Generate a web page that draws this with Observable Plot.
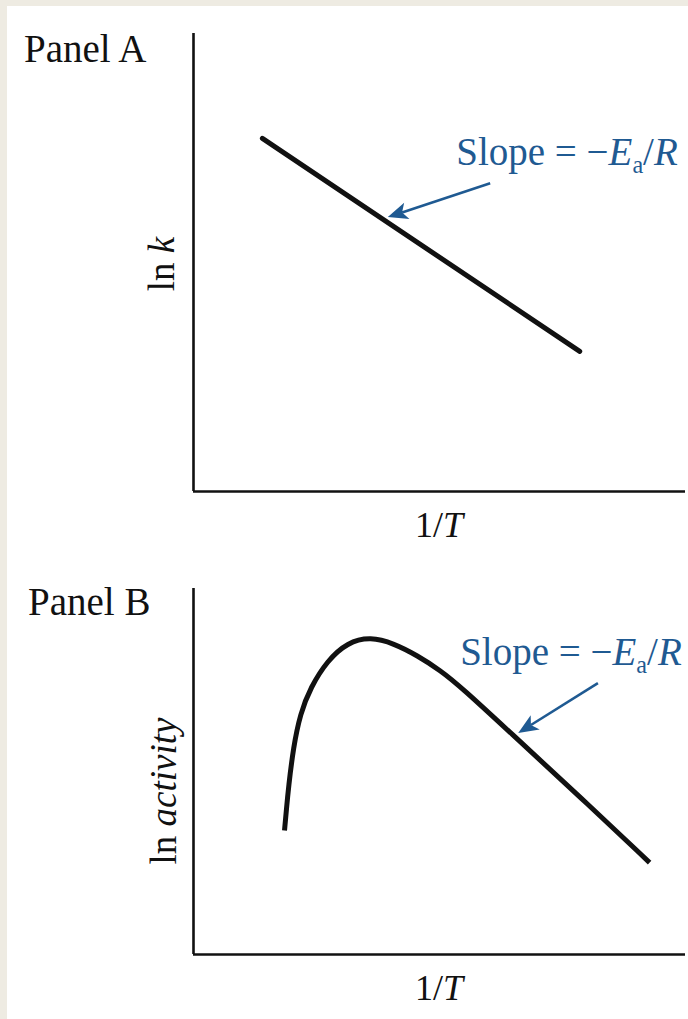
<!DOCTYPE html>
<html><head><meta charset="utf-8">
<script src="https://cdn.jsdelivr.net/npm/d3@7"></script>
<script src="https://cdn.jsdelivr.net/npm/@observablehq/plot@0.6"></script>
<style>
html,body{margin:0;padding:0;background:#eeebe2;}
#card{position:absolute;left:7px;top:6px;width:681px;height:1013px;background:#fff;overflow:hidden;}
#card svg{display:block;background:transparent;}
</style></head><body><div id="card"></div>
<script>
// ---------- data ----------
const panelNames = ["Panel A", "Panel B"];
const xTitle = [{t: "1/"}, {t: "T", i: true}];
const yTitleA = [{t: "ln "}, {t: "k", i: true}];
const yTitleB = [{t: "ln "}, {t: "activity", i: true}];
const slopeLabel = [{t: "Slope = −"}, {t: "E", i: true}, {t: "a", sub: true}, {t: "/"}, {t: "R", i: true}];

// Panel A: straight line ln k vs 1/T (arbitrary units 0–100)
const lineAX = [14.0, 78.5];
const lineAY = [77.1, 30.6];
// Panel B: ln activity vs 1/T
const curveBX = [18.5, 18.9, 19.3, 20.3, 21.7, 23.8, 27.2, 31.3, 36.0, 40.7, 45.5, 50.2, 54.3, 66.1, 78.7, 92.4, 92.7];
const curveBY = [33.9, 39.8, 45.6, 56.6, 65.8, 73.0, 80.3, 85.3, 86.8, 85.0, 81.7, 77.6, 73.2, 58.5, 42.9, 25.5, 25.1];
// annotations (data units)
const arrowAFrom = [60.4, 67.2], arrowATo = [39.6, 59.8], labelAAt = [53.5, 71.2];
const arrowBFrom = [82.3, 74.0], arrowBTo = [66.1, 60.4], labelBAt = [54.3, 79.0];

// ---------- helpers ----------
const SERIF = "'Liberation Serif', 'Times New Roman', serif";
const BLUE = "#1f5a92";

function textNode(parts, {x, y, anchor = "start", rotate = 0, fill = "#111", size = 36}) {
  const t = d3.create("svg:text")
    .attr("x", 0).attr("y", 0)
    .attr("transform", `translate(${x},${y}) rotate(${rotate})`)
    .attr("text-anchor", anchor)
    .attr("font-family", SERIF)
    .attr("font-size", size)
    .attr("fill", fill);
  let shifted = false;
  for (const p of parts) {
    const s = t.append("tspan").text(p.t);
    if (p.i) s.attr("font-style", "italic");
    if (p.sub) { s.attr("font-size", size * 0.62).attr("dy", size * 0.2); shifted = true; }
    else if (shifted) { s.attr("dy", -size * 0.2); shifted = false; }
  }
  return t.node();
}

function richLabel(parts, place) {
  return (index, scales, values, dim) => textNode(parts, place(scales, dim));
}

function arrowMark(from, to) {
  return (index, {x, y}) => {
    const x1 = x(from[0]), y1 = y(from[1]), x2 = x(to[0]), y2 = y(to[1]);
    const a = Math.atan2(y2 - y1, x2 - x1), c = Math.cos(a), s = Math.sin(a);
    const L = 20, H = 8.5;
    const bx = x2 - L * c, by = y2 - L * s;
    const nx = x2 - (L - 5) * c, ny = y2 - (L - 5) * s;
    const g = d3.create("svg:g");
    g.append("line").attr("x1", x1).attr("y1", y1).attr("x2", nx).attr("y2", ny)
      .attr("stroke", BLUE).attr("stroke-width", 2.6);
    g.append("path")
      .attr("d", `M${x2},${y2}L${bx + H * s},${by - H * c}L${nx},${ny}L${bx - H * s},${by + H * c}Z`)
      .attr("fill", BLUE);
    return g.node();
  };
}

function panel({name, height, mt, mb, yTitle, marks, nameX, nameDy, yTitleX, yTitleShift}) {
  return Plot.plot({
    width: 681, height,
    marginLeft: 186, marginRight: 3, marginTop: mt, marginBottom: mb,
    x: {domain: [0, 100], axis: null},
    y: {domain: [0, 100], axis: null},
    style: {background: "transparent", overflow: "visible"},
    marks: [
      Plot.ruleX([0], {stroke: "#111", strokeWidth: 2.6}),
      Plot.ruleY([0], {stroke: "#111", strokeWidth: 2.6}),
      ...marks,
      richLabel([{t: name}], (s, d) => ({x: nameX, y: d.marginTop + nameDy, size: 39})),
      richLabel(xTitle, (s, d) => ({
        x: (d.marginLeft + d.width - d.marginRight) / 2,
        y: d.height - d.marginBottom + 46, anchor: "middle"})),
      richLabel(yTitle, (s, d) => ({
        x: yTitleX,
        y: (d.marginTop + d.height - d.marginBottom) / 2 + yTitleShift,
        anchor: "middle", rotate: -90, size: 37}))
    ]
  });
}

const card = document.getElementById("card");

const dataA = lineAX.map((x, i) => ({x, y: lineAY[i]}));
card.append(panel({
  name: panelNames[0], height: 550, mt: 27, mb: 65, yTitle: yTitleA, nameX: 17, nameDy: 29,
  yTitleX: 167, yTitleShift: 2,
  marks: [
    Plot.line(dataA, {x: "x", y: "y", stroke: "#111", strokeWidth: 5, strokeLinecap: "round"}),
    arrowMark(arrowAFrom, arrowATo),
    richLabel(slopeLabel, ({x, y}) => ({x: x(labelAAt[0]), y: y(labelAAt[1]), fill: BLUE, size: 39}))
  ]
}));

const dataB = curveBX.map((x, i) => ({x, y: curveBY[i]}));
card.append(panel({
  name: panelNames[1], height: 463, mt: 32, mb: 65, yTitle: yTitleB, nameX: 21, nameDy: 27,
  yTitleX: 169, yTitleShift: 20,
  marks: [
    Plot.line(dataB, {x: "x", y: "y", stroke: "#111", strokeWidth: 5, curve: "basis", strokeLinecap: "butt"}),
    arrowMark(arrowBFrom, arrowBTo),
    richLabel(slopeLabel, ({x, y}) => ({x: x(labelBAt[0]), y: y(labelBAt[1]), fill: BLUE, size: 39}))
  ]
}));
</script>
</body></html>
